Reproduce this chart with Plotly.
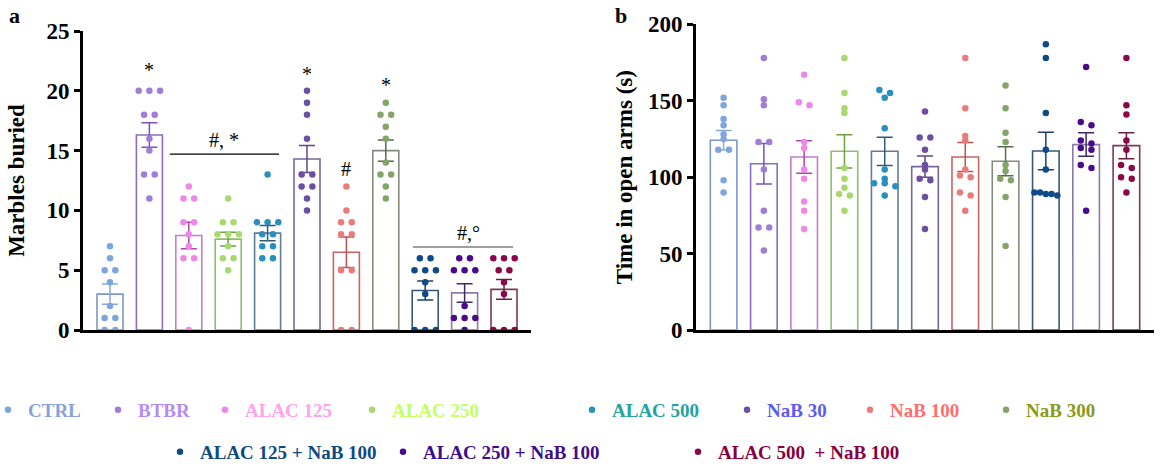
import plotly.graph_objects as go

W, H = 1167, 467

groups = ["CTRL", "BTBR", "ALAC 125", "ALAC 250", "ALAC 500", "NaB 30", "NaB 100", "NaB 300",
          "ALAC 125 + NaB 100", "ALAC 250 + NaB 100", "ALAC 500\u00a0 + NaB 100"]

# Panel a: marbles buried
marbles_points = [
    [7, 6, 5, 5, 4, 2, 1, 1, 0, 0],
    [20, 20, 20, 18, 18, 16, 15, 13, 13, 11],
    [12, 11, 11, 9, 9, 8, 7, 6, 6, 0],
    [11, 9, 9, 8, 8, 8, 7, 6, 6, 5],
    [13, 9, 9, 9, 8, 8, 7, 7, 6, 6],
    [20, 19, 18, 16, 13, 13, 12, 12, 11, 10],
    [12, 10, 9, 9, 8, 8, 5, 5, 0, 0],
    [19, 18, 18, 17, 16, 14, 13, 13, 12, 11],
    [6, 6, 5, 5, 5, 4, 3, 0, 0, 0],
    [6, 6, 5, 5, 5, 2, 1, 1, 1, 0],
    [6, 6, 6, 5, 5, 4, 3, 0, 0, 0],
]
marbles_mean = [3.0, 16.3, 7.9, 7.6, 8.1, 14.3, 6.5, 15.0, 3.3, 3.1, 3.4]
marbles_sem = [0.84, 1.03, 1.1, 0.57, 0.64, 1.13, 1.28, 0.89, 0.8, 0.77, 0.82]

# Panel b: time in open arms
time_points = [
    [152, 147, 138, 134, 128, 125, 118, 118, 98, 90],
    [178, 151, 147, 123, 123, 105, 78, 67, 67, 52],
    [167, 149, 147, 123, 119, 105, 99, 84, 78, 66],
    [178, 155, 145, 142, 106, 99, 93, 89, 88, 78],
    [157, 155, 152, 132, 105, 99, 96, 96, 94, 88],
    [143, 126, 126, 118, 108, 105, 99, 98, 87, 66],
    [178, 145, 127, 124, 105, 101, 100, 90, 88, 78],
    [160, 145, 129, 123, 108, 104, 99, 98, 87, 55],
    [187, 178, 142, 118, 105, 90, 90, 89, 89, 88],
    [172, 136, 134, 124, 122, 119, 118, 108, 106, 78],
    [178, 147, 141, 124, 118, 108, 106, 100, 99, 90],
]
time_mean = [124.1, 108.8, 113.2, 116.9, 116.9, 106.9, 113.2, 110.4, 117.1, 121.3, 120.6]
time_sem = [6.4, 13.2, 10.6, 10.9, 9.2, 6.9, 9.5, 9.5, 12.3, 7.7, 8.5]

# styles
dot_colors = ["#7EA6DC", "#A07ED8", "#EE88E8", "#A8D870", "#2A8FBC", "#6B4FA0",
              "#E87C7C", "#84A468", "#0E4A88", "#4A0A8A", "#8A0848"]
bar_line_colors = ["#7C98C8", "#8C6CC4", "#C47CCC", "#8EBE6E", "#5E7E98", "#76689A",
                   "#C86464", "#868C7C", "#3A5678", "#8A7CA6", "#7A3A58"]
err_colors = ["#8EA8D8", "#7A50C0", "#B040B0", "#6AA040", "#2E5C78", "#5E4A86",
              "#C05050", "#5A6A50", "#1F3F66", "#3D2A66", "#6A2040"]
legend_text_colors = ["#86A3D8", "#B48CF8", "#FFA2F0", "#C4FF66", "#1FA3A3", "#5C5CF2",
                      "#FF6E6E", "#8A9A1E", "#0E4A80", "#3E0E8A", "#880040"]
# legend entry anchor (left edge of each entry, px) and row centre (px)
legend_x_px = [-12, 98, 205, 352, 572, 727, 850, 986, 160, 383, 678]
legend_y_px = [410] * 8 + [452] * 3

FONT = "Liberation Serif, Times New Roman, serif"

xa_dom = [83 / W, 531 / W]
xb_dom = [696 / W, 1154 / W]
ya_dom = [1 - 330 / H, 1 - 31 / H]
yb_dom = [1 - 330 / H, 1 - 24.3 / H]
xrange = [-0.685, 10.685]

n = len(groups)
cats = list(range(n))


def swarm(vals, px_per_unit_y, px_per_cat, thresh=4.0, step=10.7, span=23.0):
    order = sorted(range(len(vals)), key=lambda k: -vals[k])
    rows, cur = [], []
    for k in order:
        if cur and abs(vals[cur[0]] - vals[k]) * px_per_unit_y >= thresh:
            rows.append(cur)
            cur = []
        cur.append(k)
    if cur:
        rows.append(cur)
    offs = [0.0] * len(vals)
    for r in rows:
        m = len(r)
        sp = step if m < 2 else min(step, span / (m - 1))
        for j, k in enumerate(r):
            offs[k] = (j - (m - 1) / 2) * sp / px_per_cat
    return offs


fig = go.Figure()

panels = [
    ("x", "y", marbles_points, marbles_mean, marbles_sem, (330 - 31) / 25.0, (531 - 83) / (xrange[1] - xrange[0])),
    ("x2", "y2", time_points, time_mean, time_sem, (330 - 24.3) / 200.0, (1154 - 696) / (xrange[1] - xrange[0])),
]

legend_ids = ["legend" if i == 0 else "legend%d" % (i + 1) for i in range(n)]

for p, (xr, yr, pts, means, sems, ppu, ppc) in enumerate(panels):
    for i in range(n):
        fig.add_trace(go.Bar(
            x=[cats[i]], y=[means[i]], xaxis=xr, yaxis=yr, width=0.66,
            marker=dict(color="white", line=dict(color=bar_line_colors[i], width=1.6)),
            error_y=dict(type="data", array=[sems[i]], visible=True, color=err_colors[i],
                         thickness=1.5, width=8),
            showlegend=False, hoverinfo="skip"))
    for i in range(n):
        offs = swarm(pts[i], ppu, ppc)
        fig.add_trace(go.Scatter(
            x=[cats[i] + o for o in offs], y=pts[i], xaxis=xr, yaxis=yr, mode="markers",
            marker=dict(color=dot_colors[i], size=6.5, line=dict(width=0)),
            name='<span style="color:%s">%s</span>' % (legend_text_colors[i], groups[i]),
            legend=legend_ids[i], showlegend=(p == 0)))

axis_common = dict(showgrid=False, zeroline=False, showline=True, linecolor="black", linewidth=3,
                   ticks="outside", tickwidth=2.5, ticklen=6, tickcolor="black", automargin=False,
                   tickfont=dict(family=FONT, size=23, color="black", weight="bold"))

layout = dict(
    width=W, height=H, margin=dict(l=0, r=0, t=0, b=0, autoexpand=False),
    paper_bgcolor="white", plot_bgcolor="white", barmode="overlay",
    xaxis=dict(domain=xa_dom, range=xrange, showgrid=False, zeroline=False, showline=True,
               linecolor="black", linewidth=3, showticklabels=False, ticks="", anchor="y",
               automargin=False),
    xaxis2=dict(domain=xb_dom, range=xrange, showgrid=False, zeroline=False, showline=True,
                linecolor="black", linewidth=3, showticklabels=False, ticks="", anchor="y2",
                automargin=False),
    yaxis=dict(domain=ya_dom, range=[0, 25], tickvals=[0, 5, 10, 15, 20, 25], anchor="x",
               title=dict(text="Marbles buried", standoff=16,
                          font=dict(family=FONT, size=23, color="black", weight="bold")),
               **axis_common),
    yaxis2=dict(domain=yb_dom, range=[0, 200], tickvals=[0, 50, 100, 150, 200], anchor="x2",
                title=dict(text="Time in open arms (s)", standoff=9,
                           font=dict(family=FONT, size=23, color="black", weight="bold")),
                **axis_common),
)
for i in range(n):
    layout[legend_ids[i]] = dict(orientation="h", x=legend_x_px[i] / W, y=1 - legend_y_px[i] / H,
                                 xanchor="left", yanchor="middle",
                                 font=dict(family=FONT, size=19, weight="bold"),
                                 bgcolor="rgba(0,0,0,0)")
fig.update_layout(**layout)

ann_font = dict(family=FONT, size=20, color="black")
# significance marks (panel a)
sig = [(1, 21.7, "*"), (5, 21.4, "*"), (7, 20.45, "*"), (6, 13.5, "#")]
for xc, yc, t in sig:
    fig.add_annotation(x=xc, y=yc, xref="x", yref="y", text=t, showarrow=False,
                       yanchor="middle", font=ann_font)
fig.add_annotation(x=2.9, y=15.9, xref="x", yref="y", text="#, *", showarrow=False,
                   yanchor="middle", font=ann_font)
fig.add_shape(type="line", xref="x", yref="y", x0=1.52, x1=4.29, y0=14.7, y1=14.7,
              line=dict(color="black", width=1.3))
fig.add_annotation(x=9.09, y=8.1, xref="x", yref="y", text="#,\u00b0", showarrow=False,
                   yanchor="middle", font=ann_font)
fig.add_shape(type="line", xref="x", yref="y", x0=7.69, x1=10.23, y0=6.94, y1=6.94,
              line=dict(color="#808080", width=1.3))

# panel letters
fig.add_annotation(x=14 / W, y=1 - 15 / H, xref="paper", yref="paper", text="a", showarrow=False,
                   xanchor="center", yanchor="middle",
                   font=dict(family=FONT, size=22, color="black", weight="bold"))
fig.add_annotation(x=621 / W, y=1 - 15 / H, xref="paper", yref="paper", text="b", showarrow=False,
                   xanchor="center", yanchor="middle",
                   font=dict(family=FONT, size=22, color="black", weight="bold"))

fig.write_html("out.html")
